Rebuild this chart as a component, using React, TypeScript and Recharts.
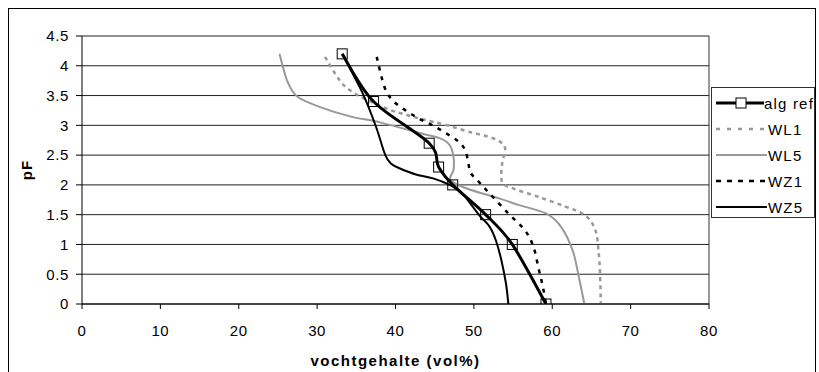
import React from 'react';
import { LineChart, Line, XAxis, YAxis, CartesianGrid, Legend, Label, ReferenceLine } from 'recharts';

// pF values with moisture content (vol%)
const algRef = [
  { x: 33.2, y: 4.2 }, { x: 37.2, y: 3.4 }, { x: 44.3, y: 2.7 }, { x: 45.5, y: 2.3 },
  { x: 47.3, y: 2.0 }, { x: 51.5, y: 1.5 }, { x: 54.9, y: 1.0 }, { x: 59.2, y: 0 },
];

const wl1 = [
  { x: 31.0, y: 4.15 }, { x: 32.9, y: 3.75 }, { x: 34.4, y: 3.57 }, { x: 36.3, y: 3.43 },
  { x: 39.1, y: 3.27 }, { x: 41.0, y: 3.19 }, { x: 43.5, y: 3.1 }, { x: 46.3, y: 3.01 },
  { x: 49.7, y: 2.88 }, { x: 51.8, y: 2.81 }, { x: 53.3, y: 2.73 }, { x: 54.0, y: 2.6 },
  { x: 53.6, y: 2.35 }, { x: 53.6, y: 2.05 }, { x: 55.0, y: 1.94 }, { x: 58.2, y: 1.8 },
  { x: 61.6, y: 1.64 }, { x: 64.2, y: 1.49 }, { x: 65.5, y: 1.24 }, { x: 65.9, y: 0.9 },
  { x: 66.1, y: 0.5 }, { x: 66.2, y: 0 },
];

const wl5 = [
  { x: 25.2, y: 4.2 }, { x: 25.6, y: 4.0 }, { x: 26.3, y: 3.71 }, { x: 27.5, y: 3.48 },
  { x: 30.3, y: 3.31 }, { x: 34.2, y: 3.15 }, { x: 38.0, y: 3.05 }, { x: 43.1, y: 2.87 },
  { x: 45.7, y: 2.78 }, { x: 46.9, y: 2.67 }, { x: 47.4, y: 2.47 }, { x: 47.4, y: 2.25 },
  { x: 47.0, y: 2.08 }, { x: 49.1, y: 1.94 }, { x: 53.3, y: 1.77 }, { x: 55.8, y: 1.66 },
  { x: 59.2, y: 1.52 }, { x: 61.1, y: 1.3 }, { x: 62.6, y: 0.9 }, { x: 63.4, y: 0.45 },
  { x: 64.1, y: 0 },
];

const wz1 = [
  { x: 37.6, y: 4.15 }, { x: 38.6, y: 3.64 }, { x: 39.7, y: 3.41 }, { x: 41.3, y: 3.25 },
  { x: 42.9, y: 3.12 }, { x: 44.6, y: 3.01 }, { x: 46.3, y: 2.88 }, { x: 48.0, y: 2.73 },
  { x: 48.9, y: 2.58 }, { x: 49.3, y: 2.36 }, { x: 49.6, y: 2.2 }, { x: 50.7, y: 2.04 },
  { x: 51.9, y: 1.87 }, { x: 54.4, y: 1.52 }, { x: 56.5, y: 1.24 }, { x: 57.6, y: 0.96 },
  { x: 58.3, y: 0.57 }, { x: 58.8, y: 0.29 }, { x: 59.2, y: 0 },
];

const wz5 = [
  { x: 33.2, y: 4.2 }, { x: 35.8, y: 3.54 }, { x: 37.5, y: 2.98 }, { x: 38.7, y: 2.5 },
  { x: 39.5, y: 2.35 }, { x: 40.5, y: 2.28 }, { x: 42.5, y: 2.18 }, { x: 44.8, y: 2.11 },
  { x: 46.9, y: 2.0 }, { x: 48.5, y: 1.86 }, { x: 50.7, y: 1.49 }, { x: 52.0, y: 1.3 },
  { x: 52.8, y: 1.07 }, { x: 53.5, y: 0.74 }, { x: 54.1, y: 0.34 }, { x: 54.4, y: 0 },
];

const xTicks = [0, 10, 20, 30, 40, 50, 60, 70, 80];
const yTicks = [0, 0.5, 1, 1.5, 2, 2.5, 3, 3.5, 4, 4.5];

const GRAY = '#999999';

// Excel-like smoothed line (Catmull-Rom as bezier)
const smooth: any = (context: any) => {
  let pts: number[][] = [];
  return {
    areaStart() {},
    areaEnd() {},
    lineStart() { pts = []; },
    point(x: number, y: number) { pts.push([+x, +y]); },
    lineEnd() {
      if (!pts.length) return;
      context.moveTo(pts[0][0], pts[0][1]);
      const t = 1 / 6;
      for (let i = 0; i < pts.length - 1; i++) {
        const p0 = pts[i - 1] || pts[i];
        const p1 = pts[i];
        const p2 = pts[i + 1];
        const p3 = pts[i + 2] || p2;
        context.bezierCurveTo(
          p1[0] + (p2[0] - p0[0]) * t, p1[1] + (p2[1] - p0[1]) * t,
          p2[0] - (p3[0] - p1[0]) * t, p2[1] - (p3[1] - p1[1]) * t,
          p2[0], p2[1]
        );
      }
    },
  };
};

const SquareDot = (props: any) => {
  const { cx, cy } = props;
  if (cx == null || cy == null) return null;
  return <rect x={cx - 5} y={cy - 5} width={10} height={10} fill="none" stroke="#000" strokeWidth={1} />;
};

const legendItems = [
  { name: 'alg ref', color: '#000', width: 3, dash: undefined, marker: true },
  { name: 'WL1', color: GRAY, width: 2.5, dash: '4 7', marker: false },
  { name: 'WL5', color: GRAY, width: 2, dash: undefined, marker: false },
  { name: 'WZ1', color: '#000', width: 2.5, dash: '5 6', marker: false },
  { name: 'WZ5', color: '#000', width: 2, dash: undefined, marker: false },
];

const LegendBox = () => (
  <div style={{ border: '1px solid #333', width: 104, height: 131, boxSizing: 'border-box', paddingTop: 2 }}>
    {legendItems.map((it) => (
      <div key={it.name} style={{ height: 26, display: 'flex', alignItems: 'center', whiteSpace: 'nowrap' }}>
        <svg width={56} height={14} style={{ display: 'block' }}>
          <line x1={4} x2={55} y1={7} y2={7} stroke={it.color} strokeWidth={it.width} strokeDasharray={it.dash} />
          {it.marker && <rect x={24} y={2} width={10} height={10} fill="#fff" stroke="#000" strokeWidth={1} />}
        </svg>
        <span style={{ fontSize: 15, letterSpacing: 1.2, color: '#000', fontFamily: 'Liberation Sans, Arial, sans-serif' }}>{it.name}</span>
      </div>
    ))}
  </div>
);

const tickStyle = { fontSize: 15, fill: '#000', fontFamily: 'Liberation Sans, Arial, sans-serif', letterSpacing: 0.6 };

export default function App() {
  return (
    <div style={{ position: 'relative', width: 819, height: 372, overflow: 'hidden', background: '#fff' }}>
      <style>{'html,body{margin:0;padding:0;overflow:hidden;background:#fff}'}</style>
      <div style={{ position: 'absolute', left: 8, top: 8, width: 808, height: 420, border: '1px solid #000', boxSizing: 'border-box' }} />
      <div style={{ position: 'absolute', left: 0, top: 0 }}>
        <LineChart width={819} height={372} margin={{ top: 36, right: 110, left: 22, bottom: 28 }}>
          <CartesianGrid horizontal vertical={false} stroke="#222" strokeOpacity={1} />
          <XAxis
            type="number"
            dataKey="x"
            domain={[0, 80]}
            ticks={xTicks}
            allowDataOverflow
            height={40}
            tick={tickStyle}
            tickSize={5}
            tickMargin={16}
            stroke="#000"
            tickLine={{ stroke: '#000' }}
          >
            <Label
              value="vochtgehalte (vol%)"
              position="bottom"
              offset={11}
              style={{ fontSize: 15, fontWeight: 'bold', fill: '#000', fontFamily: 'Liberation Sans, Arial, sans-serif', letterSpacing: 1.5 }}
            />
          </XAxis>
          <YAxis
            type="number"
            dataKey="y"
            domain={[0, 4.5]}
            ticks={yTicks}
            allowDataOverflow
            width={60}
            tick={tickStyle}
            tickSize={6}
            tickMargin={7}
            stroke="#000"
            tickLine={{ stroke: '#000' }}
          >
            <Label
              value="pF"
              angle={-90}
              position="insideLeft"
              offset={5}
              style={{ fontSize: 15, fontWeight: 'bold', fill: '#000', textAnchor: 'middle', fontFamily: 'Liberation Sans, Arial, sans-serif', letterSpacing: 1 }}
            />
          </YAxis>
          <ReferenceLine x={80} stroke="#333" strokeWidth={1} ifOverflow="visible" />
          <Legend
            layout="vertical"
            align="center"
            verticalAlign="middle"
            content={<LegendBox />}
            wrapperStyle={{ left: 711, top: 87, width: 104, height: 131 }}
          />
          <Line data={wl1} dataKey="y" name="WL1" type={smooth} stroke={GRAY} strokeWidth={2.5} strokeDasharray="4 4" dot={false} isAnimationActive={false} />
          <Line data={wl5} dataKey="y" name="WL5" type={smooth} stroke={GRAY} strokeWidth={2} dot={false} isAnimationActive={false} />
          <Line data={wz1} dataKey="y" name="WZ1" type={smooth} stroke="#000" strokeWidth={2.5} strokeDasharray="4 6" dot={false} isAnimationActive={false} />
          <Line data={wz5} dataKey="y" name="WZ5" type={smooth} stroke="#000" strokeWidth={2} dot={false} isAnimationActive={false} />
          <Line data={algRef} dataKey="y" name="alg ref" type={smooth} stroke="#000" strokeWidth={3} dot={<SquareDot />} isAnimationActive={false} />
        </LineChart>
      </div>
    </div>
  );
}
